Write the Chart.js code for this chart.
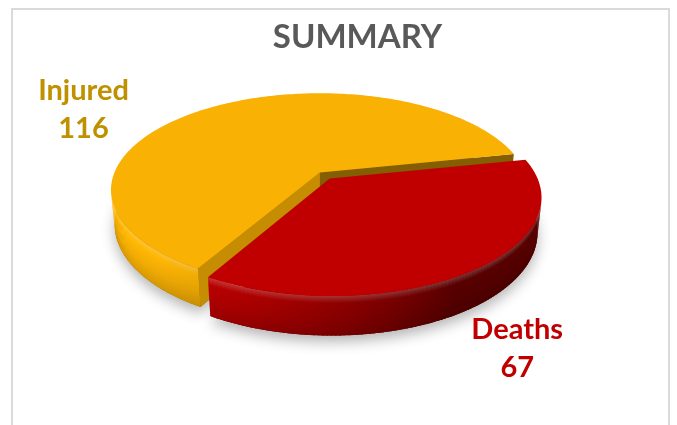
<!DOCTYPE html>
<html>
<head>
<meta charset="utf-8">
<title>Summary</title>
<script src="https://cdn.jsdelivr.net/npm/chart.js@4.4.1/dist/chart.umd.min.js"></script>
<style>
  html, body { margin: 0; padding: 0; background: #fff; }
  #wrap { position: relative; width: 677px; height: 425px; overflow: hidden; }
  #frame {
    position: absolute; left: 11px; top: 8px; width: 659px; height: 440px;
    border: 2px solid #dadada; box-sizing: border-box;
  }
  canvas { position: absolute; left: 0; top: 0; }
</style>
</head>
<body>
<div id="wrap">
  <div id="frame"></div>
  <canvas id="summary-chart" width="677" height="425"></canvas>
</div>
<script>
// Data
const categories = ['Injured', 'Deaths']
const counts = [116, 67]
const sliceColors = ['#F9B104', '#C00000']
const labelColors = ['#BF9000', '#C00000']
const explodeOffsets = [0, 14]

// 3D look: camera tilt, perspective distance and wall height, in pie radii
const view = {
  tilt: 27.1,
  distance: 4.9,
  depth: 0.19,
  zoom: 1.176,
  shiftX: -0.183,
  shiftY: -0.345,
  light: 150,
  labelCenter: [-0.095, 0.273],
  labelReach: [1.8, 0.72]
}

const toRgb = hex => [1, 3, 5].map(i => parseInt(hex.slice(i, i + 2), 16))
const shade = (hex, k, white = 0) => {
  const rgb = toRgb(hex).map(v => Math.min(255, v * k))
  return 'rgb(' + rgb.map(v => Math.round(v + (255 - v) * white)).join(',') + ')'
}

/*
 * Draws the pie as an extruded, tilted disc from the arcs Chart.js laid out.
**/
const pie3d = {
  id: 'pie3d',
  beforeDatasetsDraw(chart) {
    const ctx = chart.ctx
    const arcs = chart.getDatasetMeta(0).data
    if (!arcs.length) return false

    const base = arcs[0].getProps(['x', 'y', 'outerRadius'], true)
    const R = base.outerRadius * view.zoom
    const ox = base.x + view.shiftX * R
    const oy = base.y + view.shiftY * R
    const t = view.tilt * Math.PI / 180
    const s = Math.sin(t), c = Math.cos(t), D = view.distance, H = view.depth
    const proj = (u, v, h) => {
      const f = D / (D - (v * c + h * s))
      return [ox + R * u * f, oy + R * (v * s - h * c) * f]
    }
    const depthOf = (v, h) => v * c + h * s
    const camV = D * c
    const seesFace = (pu, pv, nu, nv) => (-pu) * nu + (camV - pv) * nv > 0

    const slices = arcs.map((arc, i) => {
      const p = arc.getProps(['startAngle', 'endAngle', 'outerRadius'], true)
      const off = (arc.options.offset || 0) / p.outerRadius
      const mid = (p.startAngle + p.endAngle) / 2
      return {
        i, a0: p.startAngle, a1: p.endAngle, mid,
        du: Math.cos(mid) * off, dv: Math.sin(mid) * off,
        color: sliceColors[i]
      }
    })

    const polygon = pts => {
      ctx.beginPath()
      pts.forEach((p, k) => k ? ctx.lineTo(p[0], p[1]) : ctx.moveTo(p[0], p[1]))
      ctx.closePath()
    }
    const rim = (sl, h) => {
      const pts = [proj(sl.du, sl.dv, h)]
      const n = Math.ceil((sl.a1 - sl.a0) / (Math.PI / 180))
      for (let k = 0; k <= n; k++) {
        const a = sl.a0 + (sl.a1 - sl.a0) * k / n
        pts.push(proj(sl.du + Math.cos(a), sl.dv + Math.sin(a), h))
      }
      return pts
    }

    // soft shadow under the disc
    ctx.save()
    ctx.shadowColor = 'rgba(0,0,0,0.3)'
    ctx.shadowBlur = 14
    ctx.shadowOffsetY = 6
    slices.forEach(sl => {
      polygon(rim(sl, -H))
      ctx.fillStyle = shade(sl.color, 0.6)
      ctx.fill()
    })
    ctx.restore()

    // walls: outer curved band and the two radial cut faces
    const faces = []
    const light = view.light * Math.PI / 180
    slices.forEach(sl => {
      const step = Math.PI / 180
      const n = Math.ceil((sl.a1 - sl.a0) / step)
      const eps = 0.004
      for (let k = 0; k < n; k++) {
        const aa = sl.a0 + (sl.a1 - sl.a0) * k / n
        const ab = sl.a0 + (sl.a1 - sl.a0) * (k + 1) / n
        const am = (aa + ab) / 2
        const pu = sl.du + Math.cos(am), pv = sl.dv + Math.sin(am)
        if (!seesFace(pu, pv, Math.cos(am), Math.sin(am))) continue
        const lit = 0.45 + 0.58 * Math.max(0, Math.cos(am - light))
        const a1 = Math.max(sl.a0, aa - eps), a2 = Math.min(sl.a1, ab + eps)
        const top1 = proj(sl.du + Math.cos(a1), sl.dv + Math.sin(a1), 0)
        const top2 = proj(sl.du + Math.cos(a2), sl.dv + Math.sin(a2), 0)
        const bot1 = proj(sl.du + Math.cos(a1), sl.dv + Math.sin(a1), -H)
        const bot2 = proj(sl.du + Math.cos(a2), sl.dv + Math.sin(a2), -H)
        faces.push({
          depth: depthOf(pv, -H / 2),
          draw: () => {
            const g = ctx.createLinearGradient(0, (top1[1] + top2[1]) / 2, 0, (bot1[1] + bot2[1]) / 2)
            g.addColorStop(0, shade(sl.color, lit, 0.2))
            g.addColorStop(0.18, shade(sl.color, lit * 1.02))
            g.addColorStop(0.6, shade(sl.color, lit * 0.95))
            g.addColorStop(1, shade(sl.color, lit * 0.84))
            polygon([top1, top2, bot2, bot1])
            ctx.fillStyle = g
            ctx.fill()
          }
        })
      }
      ;[[sl.a0, -1], [sl.a1, 1]].forEach(([a, side]) => {
        const nAng = a + side * Math.PI / 2
        const cu = sl.du + Math.cos(a) / 2, cv = sl.dv + Math.sin(a) / 2
        if (!seesFace(cu, cv, Math.cos(nAng), Math.sin(nAng))) return
        const lit = 0.45 + 0.4 * Math.max(0, Math.cos(nAng))
        const pts = [
          proj(sl.du, sl.dv, 0),
          proj(sl.du + Math.cos(a), sl.dv + Math.sin(a), 0),
          proj(sl.du + Math.cos(a), sl.dv + Math.sin(a), -H),
          proj(sl.du, sl.dv, -H)
        ]
        faces.push({
          depth: depthOf(cv, -H / 2),
          draw: () => {
            polygon(pts)
            ctx.fillStyle = shade(sl.color, lit)
            ctx.fill()
          }
        })
      })
    })
    faces.sort((a, b) => a.depth - b.depth).forEach(f => f.draw())

    // top faces
    slices.forEach(sl => {
      polygon(rim(sl, 0))
      ctx.fillStyle = sl.color
      ctx.fill()
    })

    // data labels: category on one line, value below
    const lc = [ox + view.labelCenter[0] * R, oy + view.labelCenter[1] * R]
    ctx.save()
    ctx.font = 'bold 29px Lato'
    ctx.textAlign = 'center'
    ctx.textBaseline = 'alphabetic'
    slices.forEach(sl => {
      const x = lc[0] + Math.cos(sl.mid) * view.labelReach[0] * R
      const y = lc[1] + Math.sin(sl.mid) * view.labelReach[1] * R
      ctx.fillStyle = labelColors[sl.i]
      ctx.fillText(categories[sl.i], x, y - 9)
      ctx.fillText(String(counts[sl.i]), x, y + 29)
    })
    ctx.restore()
    return false
  }
}

const config = {
  type: 'pie',
  data: {
    labels: categories,
    datasets: [{
      data: counts,
      backgroundColor: sliceColors,
      borderWidth: 0,
      offset: explodeOffsets
    }]
  },
  options: {
    responsive: false,
    animation: false,
    rotation: 210,
    layout: { padding: { left: 50, right: 12, top: 0, bottom: 0 } },
    plugins: {
      legend: { display: false },
      tooltip: { enabled: false },
      title: {
        display: true,
        text: 'SUMMARY',
        color: '#595959',
        font: { family: 'Lato', size: 33, weight: 'bold' },
        padding: { top: 18, bottom: 4 }
      }
    }
  },
  plugins: [pie3d]
}

new Chart(document.getElementById('summary-chart'), config)
</script>
</body>
</html>
